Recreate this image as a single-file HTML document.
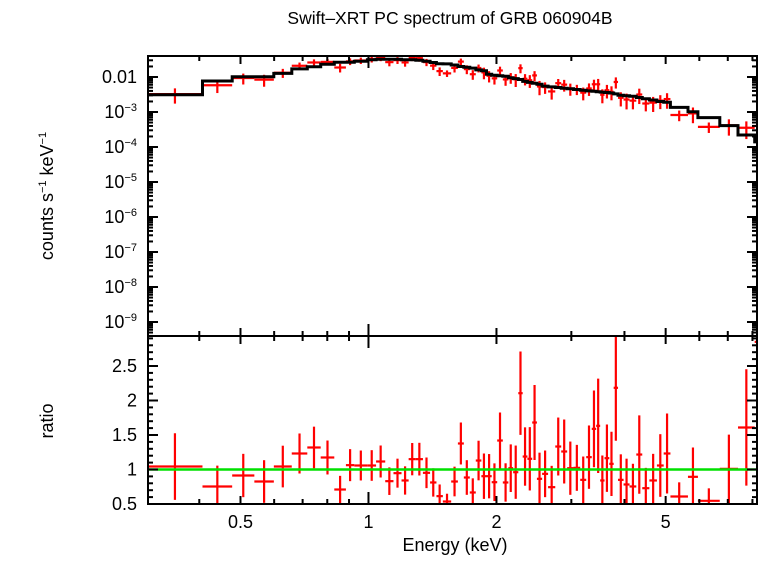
<!DOCTYPE html>
<html><head><meta charset="utf-8"><style>
html,body{margin:0;padding:0;background:#fff;}
svg text{font-family:"Liberation Sans",sans-serif;fill:#000;}
</style></head><body>
<svg id="chart" width="758" height="556" viewBox="0 0 758 556" xmlns="http://www.w3.org/2000/svg">
<text x="450" y="24" font-size="17.5" text-anchor="middle">Swift–XRT PC spectrum of GRB 060904B</text>
<text transform="translate(53,196) rotate(-90)" font-size="18" text-anchor="middle">counts s<tspan font-size="11" dy="-7">−1</tspan><tspan dy="7"> keV</tspan><tspan font-size="11" dy="-7">−1</tspan></text>
<text transform="translate(53,421) rotate(-90)" font-size="18" text-anchor="middle">ratio</text>
<text x="455" y="551" font-size="18" text-anchor="middle">Energy (keV)</text>
<g id="marks"></g>
<g id="axes"></g>
</svg>
<script>
const binEdges=[0.302,0.407,0.478,0.539,0.599,0.660,0.718,0.772,0.831,0.885,0.926,0.994,1.042,1.095,1.145,1.196,1.243,1.292,1.343,1.396,1.445,1.496,1.565,1.623,1.676,1.731,1.788,1.843,1.895,1.949,2.008,2.070,2.133,2.189,2.251,2.305,2.365,2.427,2.490,2.561,2.645,2.750,2.840,2.933,3.035,3.148,3.252,3.351,3.432,3.507,3.591,3.685,3.773,3.863,3.981,4.112,4.265,4.405,4.578,4.769,4.947,5.131,5.642,5.955,6.702,7.399,8.097,8.366];
const ratioValues=[1.043,0.754,0.913,0.826,1.043,1.232,1.319,1.174,0.710,1.063,1.058,1.058,1.116,0.831,0.947,0.841,1.150,1.150,0.952,0.812,0.614,0.536,0.826,1.377,0.884,0.667,1.130,0.903,0.903,0.816,1.420,0.812,1.019,0.961,2.106,1.188,1.155,1.681,0.865,0.937,0.744,1.333,1.261,1.019,1.024,0.850,1.179,1.589,1.633,0.841,1.164,1.082,2.184,0.850,0.783,0.754,1.217,0.729,0.841,1.058,1.232,0.609,0.894,0.546,1.010,1.609,2.85];
const ratioErrors=[0.483,0.302,0.314,0.309,0.302,0.29,0.302,0.246,0.198,0.232,0.217,0.222,0.232,0.2,0.21,0.205,0.234,0.237,0.222,0.205,0.169,0.113,0.215,0.304,0.251,0.205,0.287,0.329,0.321,0.273,0.406,0.278,0.345,0.386,0.604,0.423,0.459,0.543,0.379,0.338,0.309,0.42,0.464,0.386,0.333,0.338,0.459,0.556,0.684,0.362,0.488,0.466,0.768,0.37,0.374,0.329,0.568,0.295,0.386,0.454,0.58,0.205,0.425,0.181,0.495,0.843,2.8];
const modelValues=[0.0031,0.0077,0.0102,0.0102,0.0127,0.017,0.0197,0.023,0.0263,0.0263,0.028,0.031,0.032,0.032,0.032,0.031,0.031,0.030,0.028,0.026,0.024,0.0237,0.022,0.020,0.019,0.018,0.016,0.015,0.012,0.0112,0.0108,0.0105,0.0095,0.009,0.0085,0.0075,0.007,0.0066,0.0062,0.0055,0.0052,0.005,0.0048,0.0046,0.0044,0.0042,0.0040,0.0039,0.0038,0.0037,0.0036,0.0035,0.0033,0.0030,0.0029,0.0028,0.0026,0.0024,0.0022,0.0020,0.0019,0.00135,0.00102,0.00069,0.00041,0.00022,0.00014];
const xTickLabels=[0.5,1,2,5];
const countTickExps=[-2,-3,-4,-5,-6,-7,-8,-9];
const ratioTickLabels=[0.5,1,1.5,2,2.5];

const NS='http://www.w3.org/2000/svg';
const L=148,R=757,T1=56,B1=336,T2=336,B2=504;
const X0=0.303,X1=8.2;
function xs(e){return L+(Math.log10(e)-Math.log10(X0))/(Math.log10(X1)-Math.log10(X0))*(R-L);}
function ys1(v){return 77+(-2-Math.log10(v))*35;}
function ys2(v){return 504-(v-0.5)*69;}
const marks=document.getElementById('marks'),axes=document.getElementById('axes');
function ln(p,x1,y1,x2,y2,c,w){const l=document.createElementNS(NS,'line');l.setAttribute('x1',x1);l.setAttribute('y1',y1);l.setAttribute('x2',x2);l.setAttribute('y2',y2);l.setAttribute('stroke',c);l.setAttribute('stroke-width',w);p.appendChild(l);return l;}
const defs=document.createElementNS(NS,'defs');
defs.innerHTML='<clipPath id="c1"><rect x="148" y="56" width="609" height="280"/></clipPath><clipPath id="c2"><rect x="148" y="336" width="609" height="168"/></clipPath>';
marks.appendChild(defs);
const g1=document.createElementNS(NS,'g');g1.setAttribute('clip-path','url(#c1)');


marks.appendChild(g1);
const g2=document.createElementNS(NS,'g');g2.setAttribute('clip-path','url(#c2)');


marks.appendChild(g2);
for(let i=0;i<ratioValues.length;i++){
  const xa=xs(binEdges[i]),xb=xs(binEdges[i+1]),xc=xs(Math.sqrt(binEdges[i]*binEdges[i+1]));
  const r=ratioValues[i],er=ratioErrors[i],m=modelValues[i];
  const c=m*r,cl1=Math.max(m*(r-er),1e-12),ch=m*(r+er);
  let a=ln(g1,xa,ys1(c),xb,ys1(c),'#f00',2.2);
  
  
  a=ln(g1,xc,ys1(ch),xc,ys1(cl1),'#f00',2.2);
  
  
  a=ln(g2,xa,ys2(r),xb,ys2(r),'#f00',2.2);
  
  
  a=ln(g2,xc,ys2(r+er),xc,ys2(r-er),'#f00',2.2);
  
  
}
let d='';
for(let i=0;i<modelValues.length;i++){const y=ys1(modelValues[i]);d+=(i?'L':'M')+xs(binEdges[i]).toFixed(1)+' '+y.toFixed(1)+'L'+xs(binEdges[i+1]).toFixed(1)+' '+y.toFixed(1);}
const mp=document.createElementNS(NS,'path');mp.setAttribute('d',d);mp.setAttribute('fill','none');mp.setAttribute('stroke','#000');mp.setAttribute('stroke-width','3');


g1.appendChild(mp);
const gl=ln(g2,L,ys2(1),R,ys2(1),'#00e000',2.5);


for(const [t,b] of [[T1,B1],[T2,B2]]){
  const r=document.createElementNS(NS,'rect');r.setAttribute('x',L);r.setAttribute('y',t);r.setAttribute('width',R-L);r.setAttribute('height',b-t);r.setAttribute('fill','none');r.setAttribute('stroke','#000');r.setAttribute('stroke-width','2');
  
  
  axes.appendChild(r);
}
const minorX=[0.4,0.6,0.7,0.8,0.9,3,4,6,7,8];
for(const [t,b] of [[T1,B1],[T2,B2]]){
  for(const v of xTickLabels){const x=xs(v);const len=v===1?12:8;ln(axes,x,t,x,t+len,'#000',2);ln(axes,x,b,x,b-len,'#000',2);}
  for(const v of minorX){const x=xs(v);ln(axes,x,t,x,t+5,'#000',2);ln(axes,x,b,x,b-5,'#000',2);}
}
for(const v of xTickLabels){const tx=document.createElementNS(NS,'text');tx.setAttribute('x',xs(v));tx.setAttribute('y',528);tx.setAttribute('font-size','18');tx.setAttribute('text-anchor','middle');tx.textContent=String(v);
  
  
  axes.appendChild(tx);}
for(let e=-10;e<=-1;e++){for(let k=1;k<10;k++){const v=k*Math.pow(10,e);const y=ys1(v);if(y<T1||y>B1)continue;const len=k===1?10:5;ln(axes,L,y,L+len,y,'#000',2);ln(axes,R,y,R-len,y,'#000',2);}}
for(const e of countTickExps){const tx=document.createElementNS(NS,'text');tx.setAttribute('x',137);tx.setAttribute('y',ys1(Math.pow(10,e))+6);tx.setAttribute('font-size','18');tx.setAttribute('text-anchor','end');
  if(e===-2){tx.textContent='0.01';}else{tx.innerHTML='10<tspan font-size="11" dy="-7">−'+(-e)+'</tspan>';}
  
  
  axes.appendChild(tx);}
for(let i=5;i<=29;i++){const v=i/10;const y=ys2(v);const len=(i%5===0)?10:5;ln(axes,L,y,L+len,y,'#000',2);ln(axes,R,y,R-len,y,'#000',2);}
for(const v of ratioTickLabels){const tx=document.createElementNS(NS,'text');tx.setAttribute('x',137);tx.setAttribute('y',ys2(v)+6);tx.setAttribute('font-size','18');tx.setAttribute('text-anchor','end');tx.textContent=String(v);
  
  
  axes.appendChild(tx);}
</script>
</body></html>
